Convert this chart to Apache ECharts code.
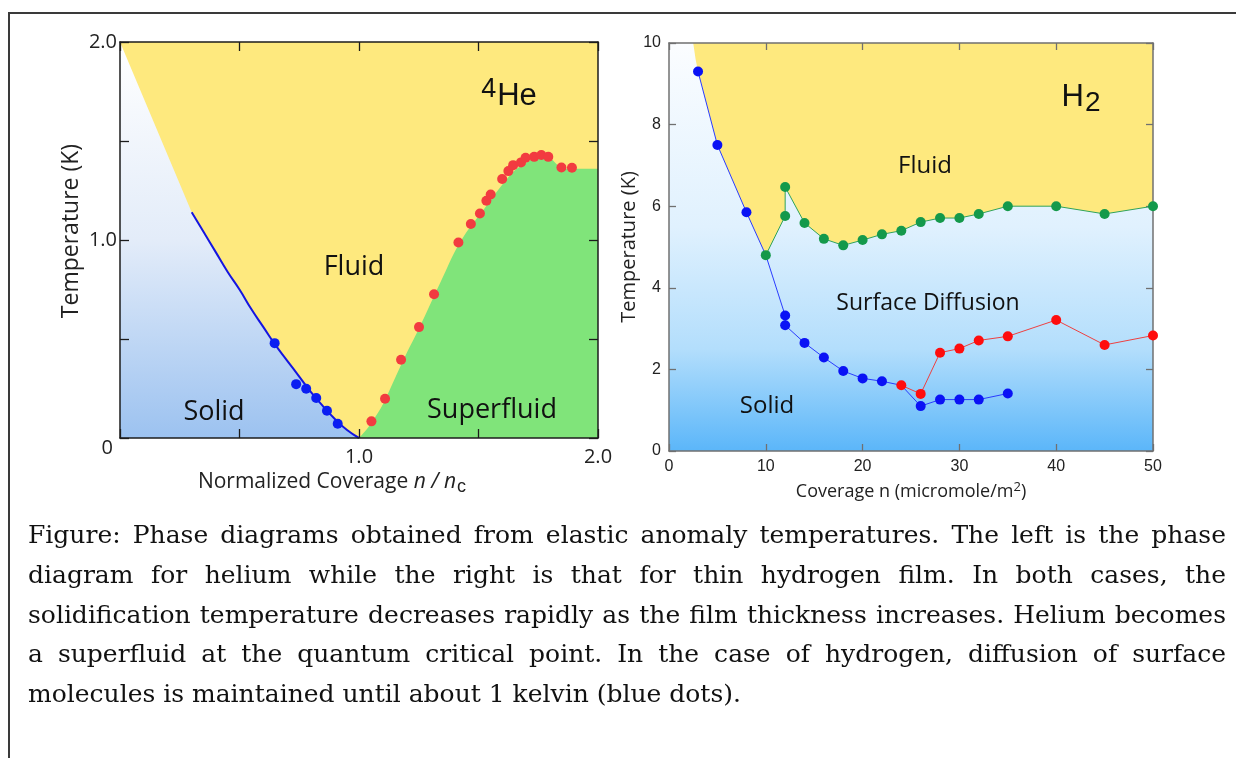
<!DOCTYPE html>
<html>
<head>
<meta charset="utf-8">
<script src="https://cdn.jsdelivr.net/npm/echarts@6/dist/echarts.min.js"></script>
<style>
html,body{margin:0;padding:0;background:#fff;}
#wrap{position:relative;width:1236px;height:758px;overflow:hidden;background:#fff;}
#chart{position:absolute;left:0;top:0;width:1236px;height:758px;}
#frameTop{position:absolute;left:8px;top:12px;width:1228px;height:0;border-top:2px solid #3a3a3a;}
#frameLeft{position:absolute;left:8px;top:12px;width:0;height:746px;border-left:2px solid #3a3a3a;}
#caption{position:absolute;left:28px;top:515px;width:1198px;font-family:"DejaVu Serif";font-size:25px;line-height:39.75px;color:#111;}
#caption div{text-align:justify;text-align-last:justify;white-space:nowrap;}
#caption div.last{text-align-last:left;}
</style>
</head>
<body>
<div id="wrap">
  <div id="chart"></div>
  <div id="frameTop"></div>
  <div id="frameLeft"></div>
  <div id="caption">
    <div>Figure: Phase diagrams obtained from elastic anomaly temperatures. The left is the phase</div>
    <div>diagram for helium while the right is that for thin hydrogen film. In both cases, the</div>
    <div>solidification temperature decreases rapidly as the film thickness increases. Helium becomes</div>
    <div>a superfluid at the quantum critical point. In the case of hydrogen, diffusion of surface</div>
    <div class="last">molecules is maintained until about 1 kelvin (blue dots).</div>
  </div>
</div>
<script>
// ---------- Left panel: 4He (x = n/nc, y = T in K) ----------
const heFluidEdge = [[0.0, 2.0], [0.30, 1.14]];
const heSolidCurve = [[0.30,1.14],[0.35,1.04],[0.40,0.94],[0.45,0.84],[0.50,0.75],[0.55,0.65],[0.60,0.56],
  [0.65,0.47],[0.70,0.39],[0.75,0.31],[0.80,0.23],[0.85,0.16],[0.90,0.095],[0.95,0.04],[1.00,0.0]];
const heSuperEdge = [[1.00,0.0],[1.03,0.04],[1.06,0.09],[1.10,0.17],[1.15,0.30],[1.20,0.43],[1.25,0.55],
  [1.30,0.68],[1.35,0.81],[1.40,0.94],[1.45,1.04],[1.50,1.12],[1.55,1.20],[1.60,1.28],[1.65,1.35],
  [1.70,1.39],[1.75,1.42],[1.79,1.42],[1.83,1.38],[1.87,1.36],[1.92,1.36],[2.00,1.36]];
const heSolidDots = [[0.647,0.479],[0.737,0.272],[0.779,0.249],[0.821,0.202],[0.866,0.138],[0.911,0.072]];
const heSuperDots = [[1.052,0.084],[1.109,0.198],[1.176,0.395],[1.251,0.560],[1.314,0.726],[1.416,0.987],
  [1.468,1.081],[1.506,1.134],[1.533,1.198],[1.551,1.230],[1.599,1.308],[1.625,1.348],[1.645,1.378],
  [1.678,1.392],[1.697,1.415],[1.733,1.420],[1.763,1.429],[1.792,1.420],[1.847,1.366],[1.891,1.365]];
const heXTicks = {1: '1.0', 2: '2.0'};
const heYTicks = {0: '{z|0}', 1: '1.0', 2: '2.0'};

// ---------- Right panel: H2 (x = coverage, y = T in K) ----------
const h2FluidTop = [[2.5, 10.0], [2.75, 9.6]];
const h2SolidLine = [[3,9.3],[5,7.5],[8,5.85],[10,4.8],[12,3.32],[12,3.08],[14,2.65],[16,2.29],[18,1.96],
  [20,1.78],[22,1.71],[24,1.61],[26,1.10],[28,1.26],[30,1.26],[32,1.26],[35,1.41]];
const h2SolidDots = [[3,9.3],[5,7.5],[8,5.85],[12,3.32],[12,3.08],[14,2.65],[16,2.29],[18,1.96],
  [20,1.78],[22,1.71],[26,1.10],[28,1.26],[30,1.26],[32,1.26],[35,1.41]];
const h2FluidLine = [[10,4.8],[12,5.76],[12,6.47],[14,5.59],[16,5.20],[18,5.04],[20,5.17],[22,5.31],
  [24,5.40],[26,5.61],[28,5.71],[30,5.71],[32,5.81],[35,6.0],[40,6.0],[45,5.81],[50,6.0]];
const h2DiffLine = [[24,1.61],[26,1.40],[28,2.41],[30,2.51],[32,2.71],[35,2.81],[40,3.21],[45,2.60],[50,2.83]];

const YELLOW = '#fee97e', GREEN = '#80e47a';

const heFluidLower = heFluidEdge.concat(heSolidCurve.slice(1)).concat([[2.0, 0.0]]);
const h2FluidLower = h2FluidTop.concat(h2SolidLine.filter(p => p[0] <= 10)).concat(h2FluidLine.slice(1));

const chart = echarts.init(document.getElementById('chart'), null, {renderer: 'canvas'});

const leftAxisCol = '#1c1c1c', rightAxisCol = '#707070';
const humanist = 'Open Sans';
const helv = 'Liberation Sans';

function lg(stops) {
  return {type: 'linear', x: 0, y: 0, x2: 0, y2: 1, colorStops: stops};
}
function frameAxis(gridIndex, position, min, max, interval, col, len) {
  return {gridIndex, type: 'value', min, max, interval, position, z: 3,
    axisLine: {onZero: false, lineStyle: {color: col, width: 1.5}},
    axisTick: {inside: true, length: len, lineStyle: {color: col, width: 1.3}},
    splitLine: {show: false}, axisLabel: {show: false}};
}

const option = {
  animation: false,
  backgroundColor: 'transparent',
  grid: [
    {left: 120, top: 42, width: 478, height: 396, show: true, borderWidth: 0,
     backgroundColor: lg([{offset: 0, color: '#ffffff'}, {offset: 0.5, color: '#e3ecf9'}, {offset: 1, color: '#9cc2f0'}])},
    {left: 669, top: 43, width: 484, height: 408, show: true, borderWidth: 0,
     backgroundColor: lg([{offset: 0, color: '#fbfdff'}, {offset: 0.45, color: '#e0f1fe'}, {offset: 0.75, color: '#b3defc'}, {offset: 1, color: '#5bb6f9'}])}
  ],
  xAxis: [
    Object.assign(frameAxis(0, 'bottom', 0, 2, 0.5, leftAxisCol, 9), {
     axisLabel: {formatter: v => heXTicks[v] || '', fontFamily: humanist, fontSize: 20, color: '#222', margin: 9},
     name: '{a|Normalized Coverage }{i|n / n}{s|c}', nameLocation: 'middle', nameGap: 27,
     nameTextStyle: {padding: [0, 54, 0, 0], rich: {
       a: {fontFamily: humanist, fontSize: 21, color: '#222'},
       i: {fontFamily: humanist, fontSize: 21, fontStyle: 'italic', color: '#222'},
       s: {fontFamily: helv, fontSize: 18, color: '#222', padding: [10, 0, 0, 1]}
     }}}),
    frameAxis(0, 'top', 0, 2, 0.5, leftAxisCol, 9),
    Object.assign(frameAxis(1, 'bottom', 0, 50, 10, rightAxisCol, 7), {
     axisLabel: {fontFamily: helv, fontSize: 16, color: '#222', margin: 8},
     name: 'Coverage n (micromole/m{sup|2})', nameLocation: 'middle', nameGap: 30,
     nameTextStyle: {fontFamily: humanist, fontSize: 18, color: '#222', rich: {
       sup: {fontFamily: humanist, fontSize: 13, color: '#222', padding: [0, 0, 9, 0]}
     }}}),
    frameAxis(1, 'top', 0, 50, 10, rightAxisCol, 7)
  ],
  yAxis: [
    Object.assign(frameAxis(0, 'left', 0, 2, 0.5, leftAxisCol, 9), {
     axisLabel: {formatter: v => heYTicks[v] || '', fontFamily: humanist, fontSize: 20, color: '#222', margin: 3,
       rich: {z: {fontFamily: humanist, fontSize: 20, color: '#222', padding: [20, 4, 0, 0]}}},
     name: 'Temperature (K)', nameLocation: 'middle', nameGap: 37,
     nameTextStyle: {fontFamily: humanist, fontSize: 23, color: '#222', padding: [0, 0, 0, 18]}}),
    frameAxis(0, 'right', 0, 2, 0.5, leftAxisCol, 9),
    Object.assign(frameAxis(1, 'left', 0, 10, 2, rightAxisCol, 7), {
     axisLabel: {fontFamily: helv, fontSize: 16, color: '#222', margin: 8},
     name: 'Temperature (K)', nameLocation: 'middle', nameGap: 25,
     nameTextStyle: {fontFamily: humanist, fontSize: 20, color: '#222'}}),
    frameAxis(1, 'right', 0, 10, 2, rightAxisCol, 7)
  ],
  series: [
    // Left panel
    {type: 'line', xAxisIndex: 0, yAxisIndex: 0, data: heFluidLower, symbol: 'none', silent: true, z: 1,
     lineStyle: {width: 0}, areaStyle: {color: YELLOW, opacity: 1, origin: 'end'}},
    {type: 'line', xAxisIndex: 0, yAxisIndex: 0, data: heSuperEdge, symbol: 'none', silent: true, z: 1,
     smooth: 0.3, lineStyle: {width: 0}, areaStyle: {color: GREEN, opacity: 1, origin: 'start'}},
    {type: 'line', xAxisIndex: 0, yAxisIndex: 0, data: heSolidCurve, symbol: 'none', silent: true, z: 2,
     smooth: true, lineStyle: {color: '#1515e0', width: 2}},
    {type: 'scatter', xAxisIndex: 0, yAxisIndex: 0, data: heSolidDots, symbolSize: 10, z: 5,
     itemStyle: {color: '#0b1ef2', opacity: 1}},
    {type: 'scatter', xAxisIndex: 0, yAxisIndex: 0, data: heSuperDots, symbolSize: 10, z: 5,
     itemStyle: {color: '#f23b40', opacity: 1}},
    // Right panel
    {type: 'line', xAxisIndex: 2, yAxisIndex: 2, data: h2FluidLower, symbol: 'none', silent: true, z: 1,
     lineStyle: {width: 0}, areaStyle: {color: YELLOW, opacity: 1, origin: 'end'}},
    {type: 'line', xAxisIndex: 2, yAxisIndex: 2, data: h2SolidLine, symbol: 'none', silent: true, z: 2,
     lineStyle: {color: '#2a3cff', width: 1}},
    {type: 'line', xAxisIndex: 2, yAxisIndex: 2, data: h2FluidLine, symbol: 'circle', symbolSize: 10,
     showAllSymbol: true, z: 5, lineStyle: {color: '#2fa35c', width: 1},
     itemStyle: {color: '#14994b', opacity: 1}},
    {type: 'scatter', xAxisIndex: 2, yAxisIndex: 2, data: h2SolidDots, symbolSize: 10, z: 5,
     itemStyle: {color: '#0a12f5', opacity: 1}},
    {type: 'line', xAxisIndex: 2, yAxisIndex: 2, data: h2DiffLine, symbol: 'circle', symbolSize: 10,
     showAllSymbol: true, z: 6, lineStyle: {color: '#ee4040', width: 1},
     itemStyle: {color: '#ff0d0d', opacity: 1}}
  ],
  graphic: [
    {type: 'text', x: 354, y: 267, z: 20, style: {text: 'Fluid', fontFamily: humanist, fontSize: 27, fill: '#111', align: 'center', verticalAlign: 'middle'}},
    {type: 'text', x: 214, y: 412, z: 20, style: {text: 'Solid', fontFamily: humanist, fontSize: 27, fill: '#111', align: 'center', verticalAlign: 'middle'}},
    {type: 'text', x: 492, y: 410, z: 20, style: {text: 'Superfluid', fontFamily: humanist, fontSize: 27, fill: '#111', align: 'center', verticalAlign: 'middle'}},
    {type: 'text', x: 509, y: 96, z: 20, style: {text: '{s|4}{b|He}', align: 'center', verticalAlign: 'middle', fill: '#111',
      rich: {s: {fontFamily: helv, fontSize: 27, fill: '#111', padding: [0, 1, 12, 0]}, b: {fontFamily: helv, fontSize: 31, fill: '#111'}}}},
    {type: 'text', x: 925, y: 166, z: 20, style: {text: 'Fluid', fontFamily: humanist, fontSize: 24, fill: '#111', align: 'center', verticalAlign: 'middle'}},
    {type: 'text', x: 928, y: 303, z: 20, style: {text: 'Surface Diffusion', fontFamily: humanist, fontSize: 23, fill: '#111', align: 'center', verticalAlign: 'middle'}},
    {type: 'text', x: 767, y: 406, z: 20, style: {text: 'Solid', fontFamily: humanist, fontSize: 24, fill: '#111', align: 'center', verticalAlign: 'middle'}},
    {type: 'text', x: 1081, y: 97, z: 20, style: {text: '{b|H}{s|2}', align: 'center', verticalAlign: 'middle', fill: '#111',
      rich: {b: {fontFamily: helv, fontSize: 31, fill: '#111'}, s: {fontFamily: helv, fontSize: 28, fill: '#111', padding: [12, 0, 0, 1]}}}}
  ]
};
chart.setOption(option);
</script>
</body>
</html>
